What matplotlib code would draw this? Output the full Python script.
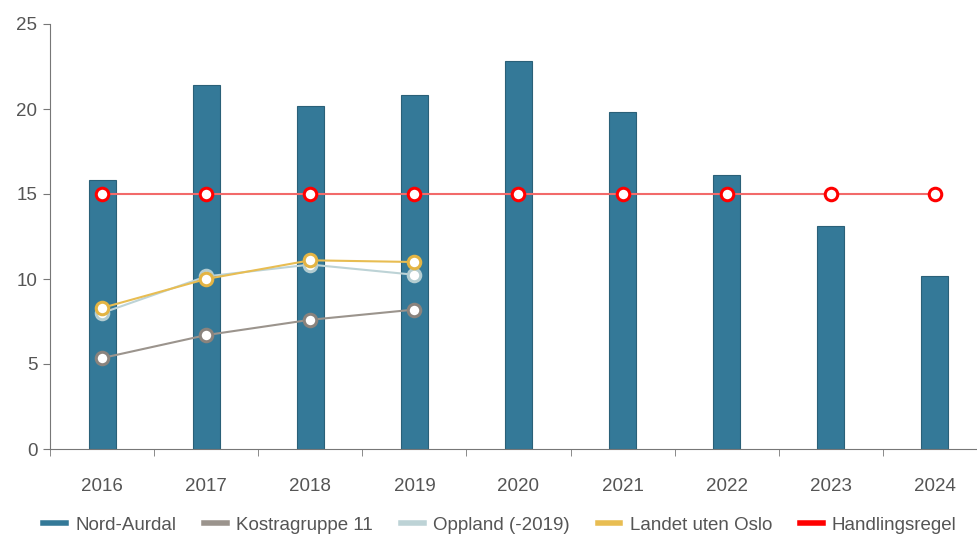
import numpy as np
import matplotlib.pyplot as plt

plt.rcParams['font.family'] = ['Liberation Sans', 'DejaVu Sans']

years = ['2016', '2017', '2018', '2019', '2020', '2021', '2022', '2023', '2024']
nord_aurdal = [15.8, 21.4, 20.2, 20.8, 22.8, 19.8, 16.1, 13.1, 10.2]
kostra = [5.35, 6.7, 7.6, 8.2]
oppland = [8.0, 10.15, 10.85, 10.25]
landet = [8.3, 10.0, 11.1, 11.0]
handlingsregel = [15, 15, 15, 15, 15, 15, 15, 15, 15]

txt = '#555555'
fs = 13.5
fig = plt.figure(figsize=(9.78, 5.36), dpi=100)
ax = fig.add_axes([50 / 978, 1 - 449 / 536, 937 / 978, 425 / 536])

x = np.arange(len(years))
ax.bar(x, nord_aurdal, width=0.26, color='#347998', edgecolor='#2a6078',
       linewidth=0.8, zorder=2, label='Nord-Aurdal')

mk = dict(marker='o', markersize=9, markerfacecolor='white', markeredgewidth=2.2,
          linewidth=1.5, zorder=3)
xs = x[:4]
ax.plot(xs, kostra, color='#9b948d', markeredgecolor='#8a837d', label='Kostragruppe 11', **mk)
ax.plot(xs, oppland, color='#bdd3d6', markeredgecolor='#b4cdd1', label='Oppland (-2019)', **mk)
ax.plot(xs, landet, color='#e8bd52', markeredgecolor='#e3b444', label='Landet uten Oslo', **mk)
ax.plot(x, handlingsregel, color='#f26a6a', markeredgecolor='#ff0000', label='Handlingsregel',
        marker='o', markersize=9, markerfacecolor='white', markeredgewidth=2.2,
        linewidth=1.5, zorder=4)

ax.set_ylim(0, 25)
ax.set_yticks([0, 5, 10, 15, 20, 25])
ax.set_xlim(-0.5, 8.5)
ax.set_xticks(x)
ax.set_xticklabels(years)
ax.set_xticks(np.arange(-0.5, 9, 1), minor=True)
ax.tick_params(axis='x', which='major', length=0, pad=21, labelsize=fs, labelcolor=txt)
ax.tick_params(axis='x', which='minor', length=5, color='#777777', direction='out')
ax.tick_params(axis='y', length=5, color='#777777', labelsize=fs, labelcolor=txt, pad=4)

for s in ['top', 'right']:
    ax.spines[s].set_visible(False)
ax.spines['left'].set_color('#777777')
ax.spines['bottom'].set_color('#777777')

handles = [plt.Line2D([], [], color=c, linewidth=4) for c in
           ['#347998', '#9b948d', '#bdd3d6', '#e8bd52', '#ff0000']]
labels = ['Nord-Aurdal', 'Kostragruppe 11', 'Oppland (-2019)', 'Landet uten Oslo', 'Handlingsregel']
leg = fig.legend(handles, labels, loc='center', bbox_to_anchor=(500 / 978, 1 - 525 / 536),
                 ncol=5, frameon=False, fontsize=fs, handlelength=1.2, handletextpad=0.5,
                 columnspacing=1.5)
for t in leg.get_texts():
    t.set_color(txt)

fig.savefig('out.png', dpi=100)
